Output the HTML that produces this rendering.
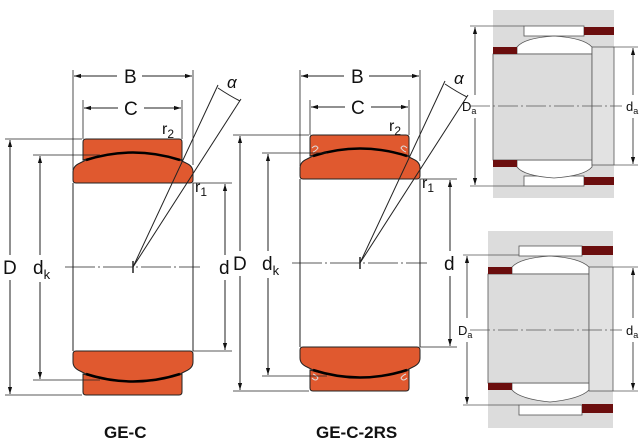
<!DOCTYPE html>
<html><head><meta charset="utf-8"><style>
html,body{margin:0;padding:0;background:#fff}
svg{display:block}
text{font-family:"Liberation Sans",Arial,sans-serif;fill:#111}
</style></head><body>
<svg width="640" height="440" viewBox="0 0 640 440" xmlns="http://www.w3.org/2000/svg">
<defs>
<marker id="a" viewBox="0 0 10 10" refX="10" refY="5" markerWidth="7" markerHeight="7" orient="auto-start-reverse" markerUnits="userSpaceOnUse"><path d="M0,2 L10,5 L0,8 Z" fill="#111"/></marker>
</defs>

<!-- ========== Drawing 1 GE-C ========== -->
<g stroke="#222" stroke-width="1" fill="none">
  <!-- bearing -->
  <g id="brg">
    <path d="M83,160 L83,142 Q83,139 86,139 L179,139 Q182,139 182,142 L182,160 Q133,145 83,160 Z" fill="#e0592f"/>
    <path d="M73,172 Q73,166 80,163 L86,160 Q133,145 180,160 L186,163 Q193,166 193,172 L193,180 Q193,183 190,183 L76,183 Q73,183 73,180 Z" fill="#e0592f"/>
    <path d="M86,160 Q133,145 180,160" stroke="#000" stroke-width="2.5"/>
  </g>
  <g transform="translate(0,534) scale(1,-1)">
    <path d="M83,160 L83,142 Q83,139 86,139 L179,139 Q182,139 182,142 L182,160 Q133,145 83,160 Z" fill="#e0592f"/>
    <path d="M73,172 Q73,166 80,163 L86,160 Q133,145 180,160 L186,163 Q193,166 193,172 L193,180 Q193,183 190,183 L76,183 Q73,183 73,180 Z" fill="#e0592f"/>
    <path d="M86,160 Q133,145 180,160" stroke="#000" stroke-width="2.5"/>
  </g>
  <line x1="73" y1="183" x2="73" y2="351"/>
  <line x1="193" y1="183" x2="193" y2="351"/>
  <!-- centerline -->
  <line x1="65" y1="267" x2="200" y2="267" stroke-dasharray="30,3,2,3" stroke-width="0.8"/>
  <line x1="133" y1="261" x2="133" y2="273" stroke-width="1.5"/>
  <!-- alpha -->
  <line x1="133" y1="267" x2="218" y2="85"/>
  <line x1="133" y1="267" x2="241" y2="99"/>
  <path d="M218,88 Q230,96 240,101"/>
  <!-- B / C -->
  <line x1="73" y1="70" x2="73" y2="170" stroke-width="0.8"/>
  <line x1="193" y1="70" x2="193" y2="165" stroke-width="0.8"/>
  <line x1="74" y1="76" x2="117" y2="76" marker-start="url(#a)"/>
  <line x1="142" y1="76" x2="192" y2="76" marker-end="url(#a)"/>
  <line x1="83" y1="100" x2="83" y2="139" stroke-width="0.8"/>
  <line x1="182" y1="100" x2="182" y2="139" stroke-width="0.8"/>
  <line x1="84" y1="108" x2="118" y2="108" marker-start="url(#a)"/>
  <line x1="144" y1="108" x2="181" y2="108" marker-end="url(#a)"/>
  <!-- D -->
  <line x1="5" y1="139" x2="82" y2="139" stroke-width="0.8"/>
  <line x1="5" y1="395" x2="82" y2="395" stroke-width="0.8"/>
  <line x1="10" y1="140" x2="10" y2="255" marker-start="url(#a)"/>
  <line x1="10" y1="280" x2="10" y2="394" marker-end="url(#a)"/>
  <!-- dk -->
  <line x1="33" y1="155" x2="100" y2="155" stroke-width="0.8"/>
  <line x1="33" y1="380" x2="100" y2="380" stroke-width="0.8"/>
  <line x1="40" y1="156" x2="40" y2="255" marker-start="url(#a)"/>
  <line x1="40" y1="282" x2="40" y2="379" marker-end="url(#a)"/>
  <!-- d -->
  <line x1="193" y1="183" x2="232" y2="183" stroke-width="0.8"/>
  <line x1="193" y1="351" x2="232" y2="351" stroke-width="0.8"/>
  <line x1="225" y1="184" x2="225" y2="255" marker-start="url(#a)"/>
  <line x1="225" y1="280" x2="225" y2="350" marker-end="url(#a)"/>
</g>
<text x="124" y="83" font-size="19">B</text>
<text x="124" y="115" font-size="19">C</text>
<text x="162" y="134" font-size="16">r<tspan font-size="12" dy="4">2</tspan></text>
<text x="195" y="192" font-size="16">r<tspan font-size="12" dy="4">1</tspan></text>
<text x="227" y="88" font-size="17" font-family="Liberation Serif" font-style="italic">α</text>
<text x="3" y="274" font-size="19">D</text>
<text x="33" y="274" font-size="19">d<tspan font-size="13" dy="5">k</tspan></text>
<text x="219" y="274" font-size="19">d</text>
<text x="104" y="438" font-size="17" font-weight="bold">GE-C</text>

<!-- ========== Drawing 2 GE-C-2RS ========== -->
<g transform="translate(227,-4)" stroke="#222" stroke-width="1" fill="none">
  <path d="M83,160 L83,142 Q83,139 86,139 L179,139 Q182,139 182,142 L182,160 Q133,145 83,160 Z" fill="#e0592f"/>
  <path d="M73,172 Q73,166 80,163 L86,160 Q133,145 180,160 L186,163 Q193,166 193,172 L193,180 Q193,183 190,183 L76,183 Q73,183 73,180 Z" fill="#e0592f"/>
  <path d="M86,160 Q133,145 180,160" stroke="#000" stroke-width="2.5"/>
  <path d="M85,152 q4,-4 6,0 q-2,3 -5,4 M180,152 q-4,-4 -6,0 q2,3 5,4" stroke="#ddd" stroke-width="1"/>
  <g transform="translate(0,534) scale(1,-1)">
    <path d="M83,160 L83,142 Q83,139 86,139 L179,139 Q182,139 182,142 L182,160 Q133,145 83,160 Z" fill="#e0592f"/>
    <path d="M73,172 Q73,166 80,163 L86,160 Q133,145 180,160 L186,163 Q193,166 193,172 L193,180 Q193,183 190,183 L76,183 Q73,183 73,180 Z" fill="#e0592f"/>
    <path d="M86,160 Q133,145 180,160" stroke="#000" stroke-width="2.5"/>
    <path d="M85,152 q4,-4 6,0 q-2,3 -5,4 M180,152 q-4,-4 -6,0 q2,3 5,4" stroke="#ddd" stroke-width="1"/>
  </g>
  <line x1="73" y1="183" x2="73" y2="351"/>
  <line x1="193" y1="183" x2="193" y2="351"/>
  <line x1="65" y1="267" x2="200" y2="267" stroke-dasharray="30,3,2,3" stroke-width="0.8"/>
  <line x1="133" y1="261" x2="133" y2="273" stroke-width="1.5"/>
  <line x1="133" y1="267" x2="218" y2="85"/>
  <line x1="133" y1="267" x2="241" y2="99"/>
  <path d="M218,88 Q230,96 240,101"/>
  <line x1="73" y1="74" x2="73" y2="170" stroke-width="0.8"/>
  <line x1="193" y1="74" x2="193" y2="165" stroke-width="0.8"/>
  <line x1="74" y1="80" x2="117" y2="80" marker-start="url(#a)"/>
  <line x1="142" y1="80" x2="192" y2="80" marker-end="url(#a)"/>
  <line x1="83" y1="104" x2="83" y2="139" stroke-width="0.8"/>
  <line x1="182" y1="104" x2="182" y2="139" stroke-width="0.8"/>
  <line x1="84" y1="111" x2="118" y2="111" marker-start="url(#a)"/>
  <line x1="144" y1="111" x2="181" y2="111" marker-end="url(#a)"/>
  <line x1="6" y1="139" x2="82" y2="139" stroke-width="0.8"/>
  <line x1="6" y1="395" x2="82" y2="395" stroke-width="0.8"/>
  <line x1="13" y1="140" x2="13" y2="255" marker-start="url(#a)"/>
  <line x1="13" y1="280" x2="13" y2="394" marker-end="url(#a)"/>
  <line x1="35" y1="157" x2="100" y2="157" stroke-width="0.8"/>
  <line x1="35" y1="380" x2="100" y2="380" stroke-width="0.8"/>
  <line x1="41" y1="158" x2="41" y2="255" marker-start="url(#a)"/>
  <line x1="41" y1="282" x2="41" y2="379" marker-end="url(#a)"/>
  <line x1="193" y1="183" x2="230" y2="183" stroke-width="0.8"/>
  <line x1="193" y1="351" x2="230" y2="351" stroke-width="0.8"/>
  <line x1="223" y1="184" x2="223" y2="255" marker-start="url(#a)"/>
  <line x1="223" y1="280" x2="223" y2="350" marker-end="url(#a)"/>
</g>
<text x="351" y="83" font-size="19">B</text>
<text x="351" y="114" font-size="19">C</text>
<text x="389" y="131" font-size="16">r<tspan font-size="12" dy="4">2</tspan></text>
<text x="422" y="188" font-size="16">r<tspan font-size="12" dy="4">1</tspan></text>
<text x="454" y="84" font-size="17" font-family="Liberation Serif" font-style="italic">α</text>
<text x="233" y="270" font-size="19">D</text>
<text x="262" y="270" font-size="19">d<tspan font-size="13" dy="5">k</tspan></text>
<text x="444" y="270" font-size="19">d</text>
<text x="316" y="438" font-size="17" font-weight="bold">GE-C-2RS</text>

<!-- ========== Top right panel ========== -->
<g stroke="#555" stroke-width="0.8">
  <rect x="493" y="10" width="121" height="188" fill="#dcdcdc" stroke="none"/>
  <rect x="524" y="26" width="60" height="10" fill="#fff"/>
  <rect x="524" y="176" width="60" height="10" fill="#fff"/>
  <path d="M517,54 L517,47 Q524,38 554,36 Q584,38 592,47 L592,54 Z" fill="#fff"/>
  <path d="M517,160 L517,167 Q524,176 554,178 Q584,176 592,167 L592,160 Z" fill="#fff"/>
  <rect x="493" y="54" width="99" height="106" fill="#dcdcdc"/>
  <rect x="592" y="47" width="22" height="118" fill="#e2e2e2"/>
  <rect x="584" y="27" width="30" height="8" fill="#6b0e0e" stroke="none"/>
  <rect x="584" y="177" width="30" height="8" fill="#6b0e0e" stroke="none"/>
  <rect x="493" y="47" width="24" height="7" fill="#6b0e0e" stroke="none"/>
  <rect x="493" y="160" width="24" height="7" fill="#6b0e0e" stroke="none"/>
  <line x1="470" y1="106" x2="622" y2="106" stroke-dasharray="20,3,2,3"/>
  <line x1="470" y1="26" x2="524" y2="26"/>
  <line x1="470" y1="186" x2="524" y2="186"/>
  <line x1="475" y1="27" x2="475" y2="95" stroke="#222" marker-start="url(#a)"/>
  <line x1="475" y1="118" x2="475" y2="185" stroke="#222" marker-end="url(#a)"/>
  <line x1="614" y1="47" x2="638" y2="47"/>
  <line x1="614" y1="165" x2="638" y2="165"/>
  <line x1="633" y1="48" x2="633" y2="95" stroke="#222" marker-start="url(#a)"/>
  <line x1="633" y1="118" x2="633" y2="164" stroke="#222" marker-end="url(#a)"/>
</g>
<text x="462" y="111" font-size="13">D<tspan font-size="9" dy="3">a</tspan></text>
<text x="626" y="111" font-size="13">d<tspan font-size="9" dy="3">a</tspan></text>

<!-- ========== Bottom right panel ========== -->
<g stroke="#555" stroke-width="0.8">
  <rect x="488" y="231" width="125" height="197" fill="#dcdcdc" stroke="none"/>
  <rect x="519" y="246" width="63" height="10" fill="#fff"/>
  <rect x="519" y="405" width="63" height="10" fill="#fff"/>
  <path d="M512,274 L512,267 Q520,258 550,256 Q580,258 589,267 L589,274 Z" fill="#fff"/>
  <path d="M512,383 L512,390 Q520,399 550,402 Q580,399 589,390 L589,383 Z" fill="#fff"/>
  <rect x="488" y="274" width="101" height="109" fill="#dcdcdc"/>
  <rect x="589" y="267" width="24" height="124" fill="#e2e2e2"/>
  <rect x="582" y="246" width="31" height="9" fill="#6b0e0e" stroke="none"/>
  <rect x="582" y="404" width="31" height="9" fill="#6b0e0e" stroke="none"/>
  <rect x="488" y="267" width="24" height="7" fill="#6b0e0e" stroke="none"/>
  <rect x="488" y="383" width="24" height="7" fill="#6b0e0e" stroke="none"/>
  <line x1="470" y1="330" x2="622" y2="330" stroke-dasharray="20,3,2,3"/>
  <line x1="463" y1="255" x2="519" y2="255"/>
  <line x1="463" y1="405" x2="519" y2="405"/>
  <line x1="467" y1="256" x2="467" y2="318" stroke="#222" marker-start="url(#a)"/>
  <line x1="467" y1="342" x2="467" y2="404" stroke="#222" marker-end="url(#a)"/>
  <line x1="613" y1="267" x2="638" y2="267"/>
  <line x1="613" y1="391" x2="638" y2="391"/>
  <line x1="633" y1="268" x2="633" y2="318" stroke="#222" marker-start="url(#a)"/>
  <line x1="633" y1="342" x2="633" y2="390" stroke="#222" marker-end="url(#a)"/>
</g>
<text x="458" y="335" font-size="13">D<tspan font-size="9" dy="3">a</tspan></text>
<text x="626" y="335" font-size="13">d<tspan font-size="9" dy="3">a</tspan></text>
</svg>
</body></html>
